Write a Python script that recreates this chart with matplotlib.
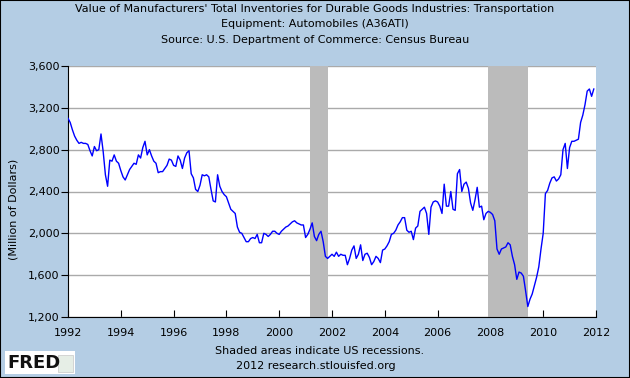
import numpy as np
import matplotlib
matplotlib.use('Agg')
import matplotlib.pyplot as plt
from matplotlib.patches import Rectangle
from matplotlib.ticker import FuncFormatter

# monthly inventories, million of dollars
inv_1992 = [3100, 3060, 2990, 2930, 2890, 2860, 2870, 2860, 2860, 2850, 2790, 2740]
inv_1993 = [2830, 2790, 2800, 2950, 2780, 2560, 2450, 2700, 2690, 2750, 2690, 2670]
inv_1994 = [2600, 2540, 2510, 2560, 2610, 2640, 2670, 2660, 2750, 2720, 2820, 2880]
inv_1995 = [2750, 2800, 2740, 2690, 2670, 2580, 2590, 2590, 2620, 2650, 2710, 2700]
inv_1996 = [2650, 2640, 2740, 2700, 2620, 2720, 2770, 2790, 2570, 2530, 2420, 2400]
inv_1997 = [2460, 2560, 2550, 2560, 2540, 2420, 2310, 2300, 2560, 2450, 2400, 2370]
inv_1998 = [2350, 2290, 2230, 2210, 2190, 2060, 2010, 2000, 1960, 1920, 1920, 1950]
inv_1999 = [1960, 1950, 1990, 1910, 1910, 2000, 1990, 1970, 1990, 2020, 2020, 2000]
inv_2000 = [1990, 2020, 2040, 2060, 2070, 2090, 2110, 2120, 2100, 2090, 2080, 2080]
inv_2001 = [1960, 1990, 2040, 2100, 1970, 1930, 1990, 2020, 1920, 1780, 1760, 1780]
inv_2002 = [1800, 1780, 1820, 1780, 1800, 1790, 1790, 1700, 1760, 1840, 1880, 1760]
inv_2003 = [1800, 1890, 1740, 1800, 1810, 1770, 1700, 1730, 1780, 1760, 1720, 1840]
inv_2004 = [1850, 1880, 1920, 1990, 2000, 2030, 2080, 2110, 2150, 2150, 2030, 2010]
inv_2005 = [2020, 1940, 2050, 2070, 2210, 2230, 2250, 2190, 1990, 2250, 2300, 2310]
inv_2006 = [2300, 2260, 2190, 2470, 2260, 2260, 2400, 2230, 2220, 2570, 2610, 2400]
inv_2007 = [2470, 2490, 2430, 2290, 2220, 2320, 2440, 2250, 2260, 2130, 2190, 2210]
inv_2008 = [2200, 2180, 2120, 1850, 1800, 1850, 1860, 1870, 1910, 1890, 1780, 1700]
inv_2009 = [1560, 1630, 1620, 1590, 1450, 1300, 1370, 1420, 1500, 1580, 1680, 1850]
inv_2010 = [2000, 2380, 2410, 2480, 2530, 2540, 2500, 2520, 2560, 2800, 2860, 2620]
inv_2011 = [2820, 2880, 2880, 2890, 2900, 3060, 3130, 3230, 3360, 3380, 3310, 3380]

start_year = 1992
recessions = [(2001 + 2 / 12, 2001 + 10 / 12), (2007 + 11 / 12, 2009 + 5 / 12)]
x_ticks = list(range(1992, 2013, 2))
y_ticks = [1200, 1600, 2000, 2400, 2800, 3200, 3600]

values = np.array(inv_1992 + inv_1993 + inv_1994 + inv_1995 + inv_1996 + inv_1997 +
                  inv_1998 + inv_1999 + inv_2000 + inv_2001 + inv_2002 + inv_2003 +
                  inv_2004 + inv_2005 + inv_2006 + inv_2007 + inv_2008 + inv_2009 +
                  inv_2010 + inv_2011)
dates = start_year + np.arange(len(values)) / 12

bg = '#b4cde4'
fs = 8
fig = plt.figure(figsize=(6.3, 3.78), dpi=100, facecolor=bg)
ax = fig.add_axes([68 / 630, 1 - 317 / 378, 528 / 630, 251 / 378])
ax.set_facecolor('white')

# recession shading (covers the grid)
for r0, r1 in recessions:
    ax.axvspan(r0, r1, color='#bbbbbb', lw=0, zorder=1)

ax.plot(dates, values, color='#0000ff', lw=1.0, zorder=3)

ax.set_xlim(1992, 2012)
ax.set_ylim(1200, 3600)
ax.set_xticks(x_ticks)
ax.set_yticks(y_ticks)
ax.yaxis.set_major_formatter(FuncFormatter(lambda v, p: '{:,.0f}'.format(v)))
ax.grid(axis='y', color='#aaaaaa', lw=1, zorder=0)
ax.set_axisbelow(True)

ax.tick_params(axis='x', direction='in', length=5, labelsize=fs, pad=8, color='black')
ax.tick_params(axis='y', direction='out', length=5, labelsize=fs, pad=1, color='black')
for s in ['top', 'right']:
    ax.spines[s].set_visible(False)
ax.spines['left'].set_color('black')
ax.spines['bottom'].set_color('black')

fig.text(14 / 630, 1 - 209 / 378, '(Million of Dollars)', rotation=90,
         ha='center', va='center', fontsize=fs)

# titles
fig.text(0.5, 1 - 9 / 378, "Value of Manufacturers' Total Inventories for Durable Goods Industries: Transportation",
         ha='center', va='center', fontsize=fs)
fig.text(0.5, 1 - 24 / 378, 'Equipment: Automobiles (A36ATI)', ha='center', va='center', fontsize=fs)
fig.text(0.5, 1 - 40 / 378, 'Source: U.S. Department of Commerce: Census Bureau', ha='center', va='center', fontsize=fs)

# footer
fig.text(320 / 630, 1 - 351 / 378, 'Shaded areas indicate US recessions.', ha='center', va='center', fontsize=fs)
fig.text(316 / 630, 1 - 366 / 378, '2012 research.stlouisfed.org', ha='center', va='center', fontsize=fs)

# FRED logo
fig.patches.append(Rectangle((5 / 630, 1 - 374 / 378), 70 / 630, 23 / 378, transform=fig.transFigure,
                             facecolor='white', edgecolor='none'))
fig.text(7 / 630, 1 - 363 / 378, 'FRED', fontsize=13, fontweight='heavy', va='center', ha='left',
         color='#111111')
fig.patches.append(Rectangle((58 / 630, 1 - 372 / 378), 15 / 630, 17 / 378, transform=fig.transFigure,
                             facecolor='#e6eee6', edgecolor='#c8c8c8', lw=0.5))

# border
fig.patches.append(Rectangle((0, 0), 1, 1, transform=fig.transFigure, fill=False,
                             edgecolor='black', lw=1.5))

fig.savefig('out.png', dpi=100, facecolor=bg)
